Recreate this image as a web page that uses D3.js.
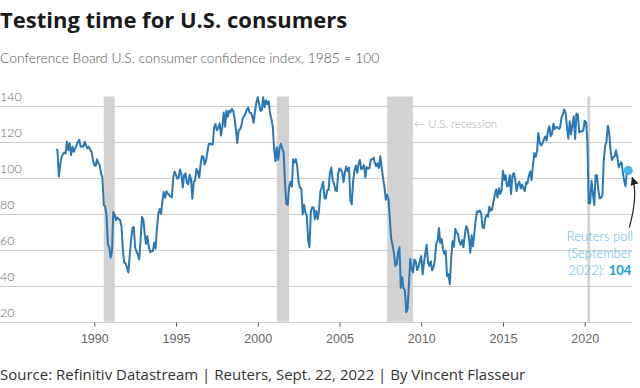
<!DOCTYPE html>
<html>
<head>
<meta charset="utf-8">
<script src="https://cdn.jsdelivr.net/npm/d3@7"></script>
<style>
  body { margin: 0; background: #fff; }
  svg { display: block; font-family: "Lato", "Noto Sans", sans-serif; }
  .title { font-family: "Open Sans", sans-serif; font-weight: 700; font-size: 22px; fill: #1a1a1a; }
  .subtitle { font-size: 13.8px; fill: #555; font-weight: 300; }
  .grid line { stroke: #cfcfcf; stroke-width: 1; }
  .ylab { font-size: 12.5px; fill: #666; font-weight: 300; }
  .xlab { font-size: 12.5px; fill: #666; font-weight: 300; }
  .source { font-family: "Open Sans", sans-serif; font-size: 15px; fill: #333; }
  .recLab { font-size: 11.5px; fill: #aaa; font-weight: 300; }
  .poll { font-size: 13px; fill: #55b6e2; font-weight: 300; }
</style>
</head>
<body>
<div id="chart"></div>
<script>
// Conference Board consumer confidence index, monthly, first value = Sep 1987
const firstMonth = "1987-09";
const confidence = [
  // 1987 Sep-Dec
  115.8, 115.2, 100.6, 107.0,
  // 1988
  111.7, 113.0, 114.0, 113.5, 120.0, 115.4, 119.1, 112.6, 117.2, 114.4, 116.3, 118.0,
  // 1989
  120.0, 121.0, 117.2, 117.5, 117.2, 120.0, 118.0, 116.3, 117.2, 115.4, 114.4, 110.0,
  // 1990
  107.0, 106.5, 110.2, 108.0, 107.0, 102.4, 100.2, 84.8, 84.0, 79.0, 62.8, 61.5,
  // 1991
  55.5, 59.4, 81.1, 79.4, 76.4, 78.0, 77.0, 76.4, 72.9, 60.1, 52.7, 52.5,
  // 1992
  50.2, 47.3, 56.5, 65.1, 71.9, 72.6, 61.2, 59.0, 57.3, 54.6, 65.6, 78.1,
  // 1993
  76.7, 68.5, 63.2, 67.6, 61.9, 58.6, 59.2, 59.3, 63.8, 60.5, 71.9, 79.8,
  // 1994
  82.6, 79.9, 86.7, 92.1, 88.9, 92.5, 91.3, 90.4, 89.5, 89.1, 100.4, 103.4,
  // 1995
  101.4, 99.4, 100.2, 104.6, 102.0, 94.6, 101.4, 102.4, 97.3, 96.3, 101.6, 99.2,
  // 1996
  88.4, 98.0, 98.4, 104.8, 103.5, 100.1, 107.0, 112.0, 111.8, 107.3, 109.5, 114.2,
  // 1997
  118.7, 118.9, 118.5, 118.5, 127.9, 129.9, 126.3, 127.6, 130.2, 123.4, 128.1, 136.2,
  // 1998
  128.3, 137.4, 133.8, 137.2, 136.3, 138.2, 137.2, 133.1, 126.4, 119.3, 126.4, 126.7,
  // 1999
  128.9, 133.1, 134.0, 135.5, 137.7, 139.0, 136.2, 136.0, 134.2, 130.5, 137.0, 141.7,
  // 2000
  144.7, 140.8, 137.1, 137.7, 144.7, 139.2, 143.0, 140.8, 142.5, 135.8, 132.6, 128.6,
  // 2001
  115.7, 109.2, 116.9, 109.9, 116.1, 118.9, 116.3, 114.0, 97.0, 85.3, 84.9, 94.6,
  // 2002
  97.8, 95.0, 110.2, 108.5, 110.3, 106.3, 97.4, 94.5, 93.7, 79.6, 84.9, 80.7,
  // 2003
  78.8, 64.8, 61.4, 81.0, 83.6, 83.5, 77.0, 81.7, 77.0, 81.7, 92.5, 94.8,
  // 2004
  97.7, 88.5, 88.5, 93.0, 93.1, 102.8, 105.7, 98.7, 96.7, 92.9, 92.6, 102.3,
  // 2005
  105.1, 104.4, 103.0, 97.5, 103.1, 106.2, 103.6, 105.5, 87.5, 85.2, 98.3, 103.8,
  // 2006
  106.8, 102.7, 107.5, 109.8, 104.7, 105.4, 107.0, 100.2, 105.9, 105.1, 105.3, 110.0,
  // 2007
  110.2, 111.2, 108.2, 106.3, 108.0, 105.3, 111.9, 105.6, 99.5, 95.2, 87.8, 90.6,
  // 2008
  87.9, 76.4, 65.9, 62.3, 58.1, 51.0, 51.9, 58.5, 61.4, 38.8, 44.7, 38.6,
  // 2009
  37.4, 25.3, 26.9, 40.8, 54.8, 49.3, 47.4, 54.5, 53.4, 48.7, 50.6, 53.6,
  // 2010
  56.5, 46.4, 52.3, 57.9, 62.7, 52.9, 51.0, 53.5, 48.6, 50.2, 54.3, 63.4,
  // 2011
  64.8, 72.0, 63.8, 66.0, 60.8, 57.6, 59.2, 45.2, 46.4, 40.9, 55.2, 64.8,
  // 2012
  61.5, 71.6, 69.5, 68.7, 64.4, 62.7, 65.4, 61.3, 68.4, 73.1, 71.5, 66.7,
  // 2013
  58.4, 68.0, 61.9, 69.0, 76.2, 81.4, 81.0, 81.8, 80.2, 72.4, 72.0, 77.5,
  // 2014
  79.4, 78.3, 83.9, 81.7, 82.2, 86.4, 90.3, 93.4, 89.0, 94.1, 91.0, 93.1,
  // 2015
  103.8, 98.8, 101.4, 95.2, 95.4, 101.4, 91.0, 101.3, 102.6, 99.1, 92.6, 96.3,
  // 2016
  97.8, 94.0, 96.2, 94.2, 92.6, 97.4, 96.7, 101.1, 103.5, 98.6, 107.1, 113.7,
  // 2017
  111.6, 114.8, 124.9, 119.4, 117.9, 118.9, 121.1, 122.9, 120.6, 125.9, 128.6, 123.1,
  // 2018
  124.3, 130.0, 127.0, 128.2, 128.0, 127.1, 127.9, 133.4, 135.3, 137.9, 135.7, 128.1,
  // 2019
  121.7, 131.4, 124.1, 129.2, 134.1, 121.5, 135.7, 135.1, 125.1, 125.9, 125.5, 126.5,
  // 2020
  131.6, 130.7, 120.0, 85.7, 85.9, 98.3, 91.7, 84.8, 101.3, 101.4, 92.9, 88.6,
  // 2021
  88.9, 90.4, 109.0, 117.5, 120.0, 128.9, 125.1, 115.2, 109.8, 111.6, 111.9, 115.2,
  // 2022 Jan-Aug
  111.1, 105.7, 107.6, 108.6, 103.2, 98.4, 95.3, 103.2
];
const pollDate = "2022-09";
const pollValue = 104;

// NBER recessions (start month, end month)
const recessions = [
  ["1990-08", "1991-03"],
  ["2001-03", "2001-11"],
  ["2007-12", "2009-06"],
  ["2020-03", "2020-04"]
];
const yTicks = [20, 40, 60, 80, 100, 120, 140];
const xTickYears = [1990, 1995, 2000, 2005, 2010, 2015, 2020];

const width = 640, height = 388;
const parseMonth = d3.timeParse("%Y-%m");

const svg = d3.select("#chart").append("svg")
  .attr("width", width)
  .attr("height", height);

const x = d3.scaleTime()
  .domain([new Date(1990, 0, 1), new Date(2020, 0, 1)])
  .range([94.3, 584.7]);
const y = d3.scaleLinear()
  .domain([20, 140])
  .range([321.7, 105.7]);

let start = parseMonth(firstMonth);
let series = confidence.map(function(v, i) {
  return { date: d3.timeMonth.offset(start, i), value: v };
});

// title + subtitle
svg.append("text").attr("class", "title")
  .attr("x", 0).attr("y", 28)
  .text("Testing time for U.S. consumers");
svg.append("text").attr("class", "subtitle")
  .attr("x", 0).attr("y", 63)
  .text("Conference Board U.S. consumer confidence index, 1985 = 100");

// recession bands
svg.append("g").selectAll("rect")
  .data(recessions)
  .enter().append("rect")
  .attr("x", d => x(parseMonth(d[0])))
  .attr("width", d => Math.max(2, x(d3.timeMonth.offset(parseMonth(d[1]), 1)) - x(parseMonth(d[0]))))
  .attr("y", 96.5)
  .attr("height", y(20) - 96.5)
  .attr("fill", "#d2d2d2");

// gridlines
let grid = svg.append("g").attr("class", "grid");
grid.selectAll("line")
  .data(yTicks)
  .enter().append("line")
  .attr("x1", 0).attr("x2", 632)
  .attr("y1", d => Math.round(y(d)) + 0.5)
  .attr("y2", d => Math.round(y(d)) + 0.5);
grid.selectAll("text")
  .data(yTicks)
  .enter().append("text")
  .attr("class", "ylab")
  .attr("x", 0)
  .attr("y", d => y(d) - 4.5)
  .text(d => d);

// x axis
let xAxis = svg.append("g")
  .attr("transform", `translate(0, ${Math.round(y(20)) + 0.5})`)
  .call(d3.axisBottom(x)
    .tickValues(xTickYears.map(yr => new Date(yr, 0, 1)))
    .tickSize(4)
    .tickFormat(d3.timeFormat("%Y")));
xAxis.select(".domain").remove();
xAxis.selectAll(".tick line").attr("stroke", "#555");
xAxis.selectAll(".tick text")
  .attr("class", "xlab")
  .attr("y", 12)
  .attr("font-family", null)
  .attr("font-size", null)
  .attr("fill", null);

// recession label
svg.append("text").attr("class", "recLab")
  .attr("x", x(parseMonth(recessions[2][1])) + 2)
  .attr("y", 127.5)
  .text("\u2190 U.S. recession");

// index line
let line = d3.line()
  .x(d => x(d.date))
  .y(d => y(d.value));
svg.append("path")
  .datum(series)
  .attr("fill", "none")
  .attr("stroke", "#2a78b5")
  .attr("stroke-width", 2)
  .attr("stroke-linejoin", "round")
  .attr("d", line);

// poll point
let px = x(parseMonth(pollDate)), py = y(pollValue);
svg.append("circle")
  .attr("cx", px).attr("cy", py).attr("r", 4.5)
  .attr("fill", "#45b7e8");

// annotation
svg.append("defs").append("marker")
  .attr("id", "arrow")
  .attr("viewBox", "0 0 10 10")
  .attr("refX", 9).attr("refY", 5)
  .attr("markerWidth", 7).attr("markerHeight", 7)
  .attr("orient", "auto")
  .append("path")
  .attr("d", "M0,0 L10,5 L0,10 Z")
  .attr("fill", "#222");
svg.append("path")
  .attr("d", `M${px + 1},${py + 57} Q${px + 10},${py + 25} ${px + 4},${py + 7}`)
  .attr("fill", "none")
  .attr("stroke", "#222")
  .attr("stroke-width", 1.2)
  .attr("marker-end", "url(#arrow)");

let ann = svg.append("text").attr("class", "poll")
  .attr("text-anchor", "middle")
  .attr("x", 600).attr("y", 241);
ann.append("tspan").attr("x", 600).attr("dy", 0).text("Reuters poll");
ann.append("tspan").attr("x", 600).attr("dy", 17).text("(September");
let l3 = ann.append("tspan").attr("x", 600).attr("dy", 17).text("2022): ");
ann.append("tspan").attr("font-weight", 700).attr("fill", "#1b9ad6").text(pollValue);

// source
svg.append("text").attr("class", "source")
  .attr("x", 0).attr("y", 380)
  .text("Source: Refinitiv Datastream | Reuters, Sept. 22, 2022 | By Vincent Flasseur");
</script>
</body>
</html>
